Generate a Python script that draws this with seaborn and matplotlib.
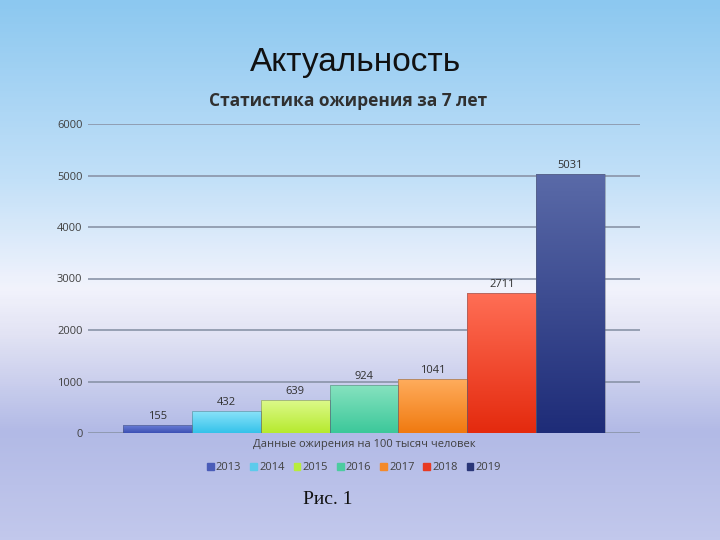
import numpy as np
import pandas as pd
import matplotlib
matplotlib.use("Agg")
import matplotlib.pyplot as plt
import matplotlib.colors as mcolors
from matplotlib.patches import Rectangle
import seaborn as sns

# ---- data ----
years = ["2013", "2014", "2015", "2016", "2017", "2018", "2019"]
values = [155, 432, 639, 924, 1041, 2711, 5031]
category = "Данные ожирения на 100 тысяч человек"
title = "Актуальность"
subtitle = "Статистика ожирения за 7 лет"
yticks = [0, 1000, 2000, 3000, 4000, 5000, 6000]

# gradient colours per bar (top, bottom)
bar_top = ["#6a7ed6", "#8ee4fa", "#dcf98a", "#86e2bf", "#ffac5c", "#ff6e55", "#5a6aa8"]
bar_bot = ["#3c50b4", "#34c2ea", "#b6ea2e", "#3cc89a", "#f07a10", "#e42a0e", "#1e2c78"]
legend_cols = ["#4a5cb8", "#5ccbec", "#b8ec3c", "#4ccca0", "#f48a2a", "#e83a22", "#2a3678"]

df = pd.DataFrame({"cat": [category] * len(years), "year": years, "value": values})

sns.set_theme(style="white")
plt.rcParams["font.family"] = ["DejaVu Sans"]

fig = plt.figure(figsize=(7.2, 5.4), dpi=100)

# background gradient
bg = fig.add_axes([0, 0, 1, 1], zorder=-10)
stops = [(0.0, "#8cc8f0"), (0.33, "#c2e0f8"), (0.535, "#f2f3fc"), (0.62, "#e2e3f4"),
         (0.80, "#b2bae6"), (1.0, "#c2c8ec")]
cmap_bg = mcolors.LinearSegmentedColormap.from_list("bg", stops)
grad = np.linspace(0, 1, 540).reshape(-1, 1)
bg.imshow(grad, aspect="auto", cmap=cmap_bg, extent=[0, 1, 1, 0])
bg.set_xlim(0, 1); bg.set_ylim(1, 0)
bg.axis("off")

ax = fig.add_axes([88 / 720, 1 - 433 / 540, 552 / 720, 309 / 540])
ax.patch.set_alpha(0)

sns.barplot(data=df, x="cat", y="value", hue="year", hue_order=years,
            palette=legend_cols, width=482 / 552, dodge=True, ax=ax,
            legend=False, saturation=1, linewidth=0, zorder=3)

ax.set_xlim(-0.5, 0.5)
ax.set_ylim(0, 6000)
ax.set_yticks(yticks)
ax.set_yticklabels([str(t) for t in yticks], fontsize=8, color="#404040",
                   family="Open Sans")
ax.tick_params(axis="y", length=0, pad=4)
ax.set_xticks([])
ax.set_xlabel("")
ax.set_ylabel("")
for s in ax.spines.values():
    s.set_visible(False)
for t in yticks:
    ax.axhline(t, color="#8a94a8", lw=1.2, zorder=1)

# gradient fill on each bar
patches = [p for p in ax.patches if isinstance(p, Rectangle) and p.get_height() > 0]
patches.sort(key=lambda p: p.get_x())
for i, p in enumerate(patches):
    x0, w, h = p.get_x(), p.get_width(), p.get_height()
    cm = mcolors.LinearSegmentedColormap.from_list("b%d" % i, [bar_bot[i], bar_top[i]])
    g = np.linspace(0, 1, 100).reshape(-1, 1)
    im = ax.imshow(g, aspect="auto", cmap=cm, origin="lower",
                   extent=[x0, x0 + w, 0, h], zorder=4)
    im.set_clip_path(p)
    ax.add_patch(Rectangle((x0, 0), w, h, fill=False, edgecolor="#5a6070",
                           lw=0.6, alpha=0.5, zorder=4.5))
    ax.text(x0 + w / 2, h + 60, str(values[i]), ha="center", va="bottom",
            fontsize=8, color="#303030", family="Open Sans", zorder=5)
ax.set_xlim(-0.5, 0.5)
ax.set_ylim(0, 6000)

# texts
fig.text(356 / 720, 1 - 62 / 540, title, ha="center", va="center", fontsize=24,
         family="Liberation Sans", color="#111111")
fig.text(348 / 720, 1 - 101 / 540, subtitle, ha="center", va="center", fontsize=12.5,
         family="Open Sans", fontweight="bold", color="#303030")
fig.text(364 / 720, 1 - 445 / 540, category, ha="center", va="center", fontsize=8,
         family="Open Sans", color="#404040")
fig.text(328 / 720, 1 - 500 / 540, "Рис. 1", ha="center", va="center", fontsize=14,
         family="Liberation Serif", color="#111111")

# legend
handles = [Rectangle((0, 0), 1, 1, color=c) for c in legend_cols]
leg = fig.legend(handles, years, loc="center", bbox_to_anchor=(354 / 720, 1 - 468 / 540),
                 ncol=7, frameon=False, handlelength=0.6, handleheight=0.6,
                 handletextpad=0.2, columnspacing=0.8,
                 prop={"family": "Open Sans", "size": 8})
for t in leg.get_texts():
    t.set_color("#404040")

fig.savefig("out.png", dpi=100)
